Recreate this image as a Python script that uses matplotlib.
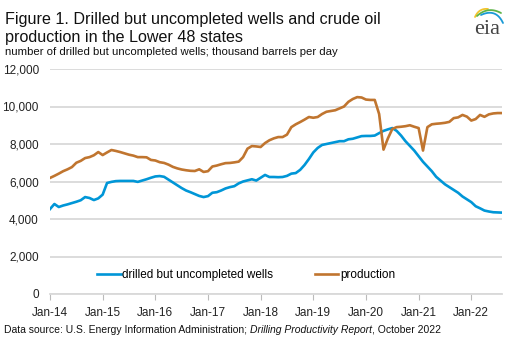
import numpy as np
import matplotlib
matplotlib.use("Agg")
import matplotlib.pyplot as plt

plt.rcParams['font.family'] = ['Liberation Sans', 'DejaVu Sans']

# monthly values, Jan-2014 .. Aug-2022
duc_wells = [
    4530, 4800, 4640, 4720, 4780, 4850, 4920, 5000, 5170, 5120, 5010, 5100,
    5300, 5920, 5980, 6020, 6030, 6030, 6030, 6030, 5980, 6050, 6120, 6200,
    6270, 6290, 6250, 6100, 5950, 5800, 5650, 5520, 5430, 5330, 5230, 5170,
    5220, 5400, 5430, 5520, 5630, 5700, 5750, 5900, 6000, 6060, 6120, 6050,
    6200, 6350, 6240, 6240, 6230, 6240, 6300, 6420, 6450, 6620, 6880, 7200,
    7550, 7790, 7950, 8000, 8050, 8100, 8150, 8150, 8250, 8280, 8350, 8420,
    8430, 8430, 8450, 8580, 8700, 8780, 8850, 8700, 8450, 8150, 7900, 7650,
    7350, 7050, 6800, 6550, 6250, 6050, 5850, 5700, 5550, 5400, 5200, 5050,
    4900, 4680, 4570, 4450, 4400, 4360, 4350, 4340,
]
production = [
    6190, 6300, 6420, 6550, 6650, 6770, 7000, 7100, 7250, 7300, 7400, 7570,
    7410, 7550, 7680, 7630, 7570, 7500, 7430, 7380, 7300, 7300, 7290, 7150,
    7120, 7030, 6990, 6900, 6780, 6700, 6640, 6600, 6570, 6560, 6650, 6510,
    6550, 6800, 6850, 6920, 6980, 6990, 7020, 7060, 7300, 7750, 7890, 7870,
    7840, 8050, 8200, 8300, 8370, 8370, 8500, 8900, 9050, 9170, 9300, 9440,
    9400, 9440, 9600, 9720, 9760, 9800, 9900, 10000, 10250, 10400, 10500, 10480,
    10370, 10350, 10350, 9600, 7700, 8300, 8800, 8900, 8920, 8950, 9000, 8920,
    8850, 7650, 8900, 9050, 9080, 9100, 9130, 9180, 9380, 9420, 9550, 9460,
    9250, 9330, 9550, 9450, 9580, 9630, 9650, 9650,
]
x_labels = ['Jan-14', 'Jan-15', 'Jan-16', 'Jan-17', 'Jan-18',
            'Jan-19', 'Jan-20', 'Jan-21', 'Jan-22']
y_ticks = [0, 2000, 4000, 6000, 8000, 10000, 12000]

blue = '#0096d7'
orange = '#c0752f'
grid = '#d9d9d9'

fig = plt.figure(figsize=(5.16, 3.39), dpi=100)
ax = fig.add_axes([50/516, 1-294/339, 452/516, 225/339])

months = np.arange(len(duc_wells))
ax.plot(months, duc_wells, color=blue, lw=1.9, label='drilled but uncompleted wells')
ax.plot(months, production, color=orange, lw=1.9, label='production')

ax.set_xlim(0, len(duc_wells) - 1)
ax.set_ylim(0, 12000)
ax.set_yticks(y_ticks)
ax.set_yticklabels([f'{v:,}' for v in y_ticks])
ax.set_xticks(np.arange(len(x_labels)) * 12)
ax.set_xticklabels(x_labels)
ax.grid(axis='y', color=grid, lw=1.3)
ax.set_axisbelow(True)
for s in ['top', 'right', 'left']:
    ax.spines[s].set_visible(False)
ax.spines['bottom'].set_color(grid)
ax.spines['bottom'].set_linewidth(1.3)
ax.tick_params(axis='y', length=0, pad=8, labelsize=8.5, labelcolor='#222222')
ax.tick_params(axis='x', length=4, color='#bbbbbb', pad=5, labelsize=8.5,
               labelcolor='#222222')

ax.legend(loc='center left', bbox_to_anchor=(47/452, 19/225), ncol=2, frameon=False,
          fontsize=8.5, handlelength=2.0, handletextpad=0.15, columnspacing=3.5,
          borderpad=0, borderaxespad=0)

# titles
fig.text(5/516, 1-24/339, 'Figure 1. Drilled but uncompleted wells and crude oil',
         fontsize=11.6, color='#111111')
fig.text(5/516, 1-42/339, 'production in the Lower 48 states',
         fontsize=11.6, color='#111111')
fig.text(5/516, 1-55/339, 'number of drilled but uncompleted wells; thousand barrels per day',
         fontsize=8.2, color='#111111')

# source line with italic report name
t1 = fig.text(4/516, 1-333/339, 'Data source: U.S. Energy Information Administration; ',
              fontsize=7.5, color='#111111')
t2 = fig.text(0, 0, 'Drilling Productivity Report', fontsize=7.5, style='italic',
              color='#111111')
t3 = fig.text(0, 0, ', October 2022', fontsize=7.5, color='#111111')
fig.canvas.draw()
r = fig.canvas.get_renderer()
bb = t1.get_window_extent(r)
t2.set_position((bb.x1 / fig.bbox.width, 1-333/339))
bb = t2.get_window_extent(r)
t3.set_position((bb.x1 / fig.bbox.width, 1-333/339))

# eia logo
lax = fig.add_axes([460/516, 1-45/339, 56/516, 45/339])
lax.set_xlim(0, 56)
lax.set_ylim(45, 0)
lax.axis('off')


def bez(p0, p1, p2, n=30):
    t = np.linspace(0, 1, n)[:, None]
    p = (1-t)**2*np.array(p0) + 2*(1-t)*t*np.array(p1) + t**2*np.array(p2)
    return p[:, 0], p[:, 1]


for (p0, p1, p2, c) in [((15, 17), (19, 8), (28, 9), '#f2c42c'),
                        ((17, 16), (28, 6), (41, 13), '#5db346'),
                        ((21, 15), (36, 8), (43, 23), '#1a9ad6')]:
    xs, ys = bez(p0, p1, p2)
    lax.plot(xs, ys, color=c, lw=1.3, solid_capstyle='round')
lax.text(27, 29, 'eia', fontsize=16, family='Liberation Serif', color='#444444',
         ha='center', va='center')

fig.savefig('out.png', dpi=100)
